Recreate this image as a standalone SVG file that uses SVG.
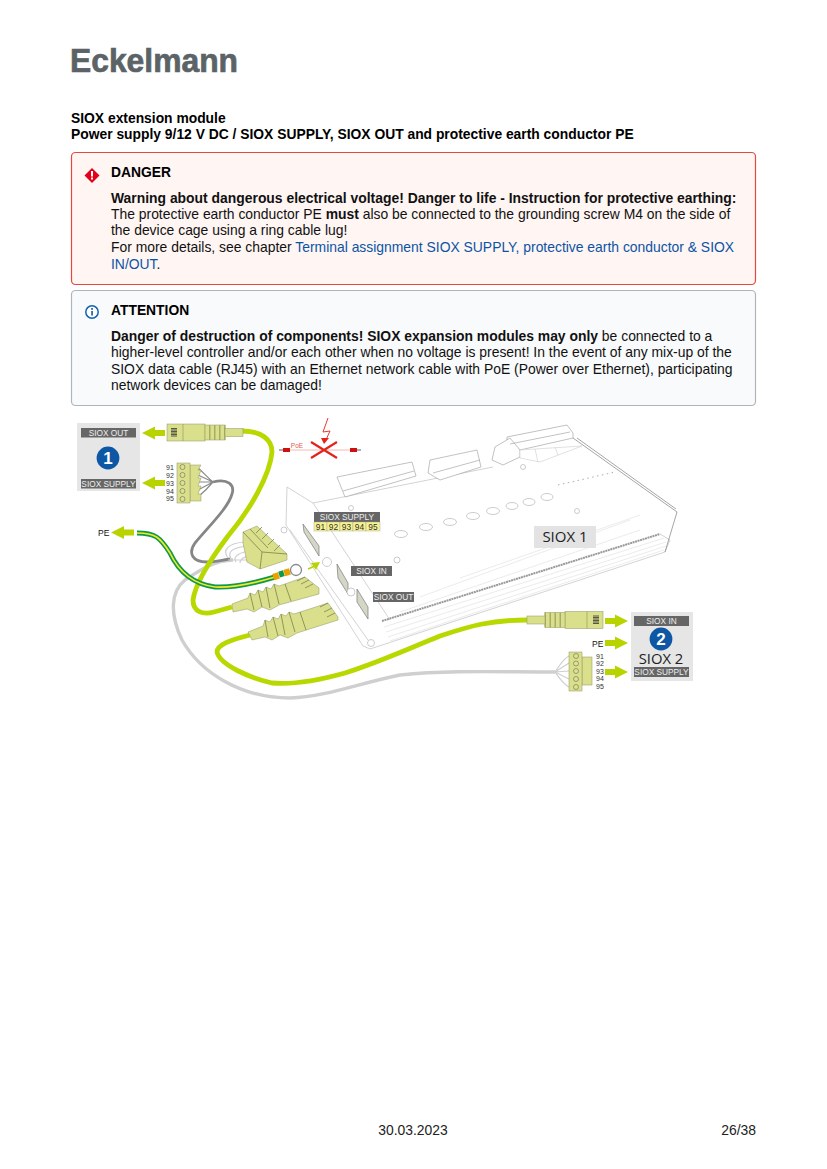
<svg xmlns="http://www.w3.org/2000/svg" width="827" height="1169" viewBox="0 0 827 1169">
<style>
text{font-family:"Liberation Sans",Arial,sans-serif;fill:#000}
.b{font-size:13.900px;fill:#111}
.bb{font-weight:bold}
.h{font-size:13.850px;font-weight:bold}
.lnk{fill:#0b54a4}
text.lab{font-size:8.300px;fill:#eee;text-anchor:middle}
text.pin{font-size:7px;fill:#333}
text.term{font-size:8.400px;fill:#333;text-anchor:middle}
text.pe{font-size:8.500px;fill:#111}
.ln{fill:none;stroke:#b5b5b5;stroke-width:.6}
.lnd{fill:none;stroke:#808080;stroke-width:.7}
.lnl{fill:none;stroke:#e2e2e2;stroke-width:.7}
.plug{fill:#dadf8b;stroke:#8f9460;stroke-width:.5}
.rib{fill:none;stroke:#7c8150;stroke-width:.8}
.ar{fill:#b9d300}
.cab{fill:none;stroke:#b9d800;stroke-width:4.800}
.grey{fill:none;stroke:#cfcfcf;stroke-width:3.400}
.dgrey{fill:none;stroke:#868686;stroke-width:2.800}
.w{fill:none;stroke:#8a8a8a;stroke-width:1.200}
.wl{fill:none;stroke:#cfcfcf;stroke-width:1.200}
.panel{fill:#e6e6e6}
.box{fill:#666}
.led{fill:#fff;stroke:#aaa;stroke-width:.6}
.port{fill:#d4d6c6;stroke:#7a7a7a;stroke-width:.7}
</style>
<defs>
<g id="arr"><path class="ar" d="M0 0L13 -6.500V-3H23V3H13V6.500Z"/></g>
<g id="rj"><rect x="0" y="-8.500" width="38" height="17" class="plug"/><rect x="38" y="-7.500" width="20" height="15" class="plug"/><rect x="42" y="-7.500" width="1.500" height="15" fill="#a8ad66"/><rect x="47" y="-7.500" width="1.500" height="15" fill="#a8ad66"/><rect x="52" y="-7.500" width="1.500" height="15" fill="#a8ad66"/><rect x="57" y="-7.500" width="1.500" height="15" fill="#a8ad66"/><rect x="58" y="-4" width="18" height="8" class="plug"/><path d="M4-4h6M4-2.500h6M4-1h6M4 .5h6M4 2h6M4 3.500h6" stroke="#333" stroke-width=".8"/><path d="M16-8.500v17" stroke="#8f9460" stroke-width=".6"/></g>
</defs>
<g id="logo"><text x="70" y="72" style="font-size:33px;font-weight:bold;fill:#5b6367;stroke:#5b6367;stroke-width:.7" textLength="168" lengthAdjust="spacingAndGlyphs">Eckelmann</text></g>
<g id="title"><text x="71" y="123" class="h">SIOX extension module</text><text x="71" y="139" class="h">Power supply 9/12 V DC / SIOX SUPPLY, SIOX OUT and protective earth conductor PE</text></g>
<g id="danger">
<rect x="71.500" y="152.500" width="684" height="132" rx="4" fill="#fff5f3" stroke="#e5483f" stroke-width="1.200"/>
<path d="M92 168l7.500 7.500L92 183l-7.500-7.500Z" fill="#e3001b"/><rect x="91" y="171" width="2" height="5.500" fill="#fff"/><rect x="91" y="177.500" width="2" height="2" fill="#fff"/>
<text x="111" y="177" class="h">DANGER</text>
<text x="111" y="203" class="b bb">Warning about dangerous electrical voltage! Danger to life - Instruction for protective earthing:</text>
<text x="111" y="219" class="b">The protective earth conductor PE <tspan class="bb">must</tspan> also be connected to the grounding screw M4 on the side of</text>
<text x="111" y="235" class="b">the device cage using a ring cable lug!</text>
<text x="111" y="252" class="b">For more details, see chapter <tspan class="lnk">Terminal assignment SIOX SUPPLY, protective earth conductor &amp; SIOX</tspan></text>
<text x="111" y="269" class="b"><tspan class="lnk">IN/OUT</tspan>.</text>
</g>
<g id="attention">
<rect x="71.500" y="290.500" width="684" height="115" rx="4" fill="#f9fafb" stroke="#aeb6bd" stroke-width="1.200"/>
<circle cx="92" cy="312" r="6.200" fill="#fff" stroke="#1463ad" stroke-width="1.500"/><rect x="91.200" y="311" width="1.700" height="4.500" fill="#1463ad"/><rect x="91.200" y="308" width="1.700" height="1.800" fill="#1463ad"/>
<text x="111" y="315" class="h">ATTENTION</text>
<text x="111" y="341" class="b"><tspan class="bb">Danger of destruction of components! SIOX expansion modules may only</tspan> be connected to a</text>
<text x="111" y="357" class="b">higher-level controller and/or each other when no voltage is present! In the event of any mix-up of the</text>
<text x="111" y="374" class="b">SIOX data cable (RJ45) with an Ethernet network cable with PoE (Power over Ethernet), participating</text>
<text x="111" y="390" class="b">network devices can be damaged!</text>
</g>
<g id="siox-1-device">
<path class="ln" d="M287 487L313 503L390 620M287 487L286 525L363 646L370 649L665 552L670 540L660 534M290 530L368 640"/>
<path class="ln" d="M313 503L493 467"/>
<path class="lnd" d="M573 438L677 512L665 552M577 438L676 509"/>
<path class="lnl" d="M384 627L664 538M386 632L666 542M388 637L666 546M390 641L664 550"/>
<path class="lnl" d="M400 612L640 530M420 597L630 520M460 578L640 515"/>
<path d="M382 621L660 534" stroke="#999" stroke-width="2" stroke-dasharray="2 .6" fill="none"/>
<path d="M558 485L615 472" stroke="#888" stroke-width=".7" stroke-dasharray="1.500 3.500"/>
<g id="top-terminals" fill="#fff" stroke="#999" stroke-width=".6">
<path d="M337 477L412 462L416 476L345 497Z"/>
<path d="M430 460L477 450L481 467L440 480L428 473Z"/>
<path d="M507 437L567 425L573 433V438L520 450L507 447Z"/>
<path d="M495 447L492 460L503 465L520 457V450L510 438Z"/>
<path d="M520 450L582 446L540 462L520 458ZM535 449L538 462M555 447L558 455" stroke="#ccc"/>
<path d="M343 491L414 471M433 473L480 460M510 444L570 432" fill="none"/>
</g>
<g id="leds">
<ellipse class="led" cx="401" cy="534" rx="6.500" ry="3.500"/><ellipse class="led" cx="426" cy="527" rx="6.500" ry="3.500"/><ellipse class="led" cx="450" cy="522" rx="6.500" ry="3.500"/><ellipse class="led" cx="473" cy="516" rx="6.500" ry="3.500"/><ellipse class="led" cx="493" cy="511" rx="6.500" ry="3.500"/><ellipse class="led" cx="512" cy="506" rx="6" ry="3.500"/><ellipse class="led" cx="529" cy="502" rx="6" ry="3.500"/><ellipse class="led" cx="547" cy="497" rx="6" ry="3.500"/>
<circle class="led" cx="397" cy="560" r="3"/><circle class="led" cx="577" cy="511" r="2.500"/><circle class="led" cx="523" cy="467" r="2.500"/><circle class="led" cx="351" cy="508" r="2.500"/><circle class="led" cx="284" cy="530" r="3"/>
</g>
<g id="ports">
<path class="port" d="M303 524L319 546V556L304 532Z"/>
<path class="port" d="M337 564L348 583V594L338 578Z"/>
<path class="port" d="M357 589L368 607V619L357 602Z"/>
<circle class="led" cx="327" cy="562" r="4.500"/><circle class="led" cx="351" cy="592" r="4"/><circle class="led" cx="371" cy="643" r="3.500"/>
</g>
<path class="ar" d="M320 562L311 563L316 570Z"/>
<path d="M308 569L315 566" stroke="#b9d300" stroke-width="1.500"/>
<g id="labels">
<rect x="314" y="512" width="66" height="10" fill="#666"/><text x="347" y="520" class="lab">SIOX SUPPLY</text>
<g fill="#f7f38f" stroke="#999" stroke-width=".4"><rect x="314" y="522" width="13" height="9"/><rect x="327" y="522" width="13" height="9"/><rect x="340" y="522" width="13" height="9"/><rect x="353" y="522" width="13" height="9"/><rect x="366" y="522" width="14" height="9"/></g>
<text x="320.500" y="530" class="term">91</text><text x="333.500" y="530" class="term">92</text><text x="346.500" y="530" class="term">93</text><text x="359.500" y="530" class="term">94</text><text x="373" y="530" class="term">95</text>
<rect x="351" y="566" width="41" height="10" class="box"/><text x="371.500" y="574" class="lab">SIOX IN</text>
<rect x="373" y="592" width="41" height="10" class="box"/><text x="393.500" y="600" class="lab">SIOX OUT</text>
<rect x="534" y="526" width="62" height="22" fill="#e3e3e3"/><text x="565" y="542" style="font-size:15px;font-family:'Open Sans',sans-serif;text-anchor:middle;fill:#222">SIOX 1</text>
</g>
</g>
<g id="connectors">
<path class="grey" d="M233 560C215 560 200 570 185 580C170 592 170 615 182 640C200 672 240 698 290 698C325 697 360 683 400 675C450 670 500 672 555 672"/>
<path class="dgrey" d="M213 482C228 478 235 485 232 494C228 508 210 525 195 543C188 553 192 562 207 562C215 562 222 560 230 559"/>
<path class="cab" d="M242 431C262 431 272 440 272 452C270 475 250 510 228 536C210 560 195 585 193 600C193 612 203 615 214 612L232 607"/>
<path class="cab" d="M250 635C230 640 217 645 217 652C220 665 250 678 272 683C295 685 320 680 345 673C380 662 410 648 440 636C470 626 490 620 527 620"/>
<path id="pe-cable" d="M137 533C155 533 160 537 170 553C178 570 192 584 215 587C235 588 255 583 275 577" fill="none" stroke="#0f9a49" stroke-width="5"/>
<path d="M137 533C155 533 160 537 170 553C178 570 192 584 215 587C235 588 255 583 275 577" fill="none" stroke="#f4e62c" stroke-width="1.700"/>
<g class="w"><path d="M213 482C208 478 204 473 198 468M213 482L198 475M213 482H198M213 482L198 490M213 482C208 488 204 492 198 497"/></g>
<g class="wl"><path d="M555 672C560 665 563 659 569 656M555 672L569 663M555 672L569 671M555 672L569 679M555 672C560 679 563 684 569 687"/>
<path d="M228 558C222 550 228 543 245 542M232 560C226 552 232 547 250 546M236 562C232 556 240 552 254 550M240 563C240 558 246 556 258 554M228 560H250"/></g>
<use href="#arr" transform="translate(142 433)"/><use href="#arr" transform="translate(142 483)"/><use href="#arr" transform="translate(111 532.500)"/>
<use href="#arr" transform="translate(628 621) scale(-1 1)"/><use href="#arr" transform="translate(628 643) scale(-1 1)"/><use href="#arr" transform="translate(628 672) scale(-1 1)"/>
<path d="M290 450H350" stroke="#f3a9a0" stroke-width=".8"/>
<path d="M311 442L337 458M337 442L311 458" stroke="#e3241b" stroke-width="2.200"/>
<path d="M328 418L323 432L330 431L325 442" fill="none" stroke="#e3241b" stroke-width=".9"/>
<path d="M321 438L324 444L329 438Z" fill="#e3241b"/>
<rect x="283" y="448" width="7" height="4" fill="#c11"/><rect x="350" y="448" width="7" height="4" fill="#c11"/>
<path d="M279 450H283M357 450H361" stroke="#333" stroke-width=".8"/>
</g>
<g id="poe"><text x="297" y="448" style="font-size:6.500px;fill:#e35a50;text-anchor:middle">PoE</text></g>
<g id="panel-1">
<rect x="77" y="423" width="63" height="68" class="panel"/>
<rect x="81" y="428" width="55" height="9.500" class="box"/><text x="108.500" y="436" class="lab">SIOX OUT</text>
<circle cx="108" cy="458" r="11.400" fill="#0d57a5"/><text x="108" y="464" style="font-size:17px;font-weight:bold;fill:#fff;text-anchor:middle">1</text>
<rect x="81" y="479" width="55" height="9.500" class="box"/><text x="108.500" y="487" class="lab">SIOX SUPPLY</text>
</g>
<g id="panel-2">
<rect x="631" y="612" width="62" height="69" class="panel"/>
<rect x="634" y="616" width="55" height="10" class="box"/><text x="661.500" y="624" class="lab">SIOX IN</text>
<circle cx="661" cy="639" r="11.400" fill="#0d57a5"/><text x="661" y="645" style="font-size:17px;font-weight:bold;fill:#fff;text-anchor:middle">2</text>
<text x="661" y="664" style="font-size:14.800px;font-family:'Open Sans',sans-serif;text-anchor:middle;fill:#222">SIOX 2</text>
<rect x="634" y="667" width="55" height="10" class="box"/><text x="661.500" y="675" class="lab">SIOX SUPPLY</text>
</g>
<g id="pe-labels"><text x="98" y="535.500" class="pe">PE</text><text x="592" y="646.500" class="pe">PE</text></g>
<g id="rj45-top"><use href="#rj" transform="translate(167 432.500)"/></g>
<g id="rj45-right"><use href="#rj" transform="translate(603 620) scale(-1 1)"/></g>
<g id="boots">
<path class="plug" d="M232 604L248 598L250 593L255 595L258 590L263 592L266 587L271 589L274 584L279 586L305 577L319 588V594L279 605L270 610L262 607L254 612L247 609L233 612Z"/><path class="rib" d="M250 593L254 610M258 590L262 607M266 587L270 608M274 584L279 604M285 584L291 601M305 577L297 581M309 580L301 584M313 584L305 588"/>
<path class="plug" d="M248 632L263 626L265 620L270 622L273 617L278 619L281 614L286 616L289 612L294 614L328 603L338 617V620L297 633L288 638L280 635L272 640L265 637L252 640Z"/><path class="rib" d="M265 620L268 637M273 617L278 636M281 614L285 635M289 612L295 632M300 612L306 630M328 603L320 607M332 608L324 612M335 613L327 617"/>
</g>
<g id="ring-lug"><rect x="273" y="573" width="6" height="6.500" fill="#eaa000" transform="rotate(-18 276 576)"/><rect x="279" y="571" width="5" height="6" fill="#0f9a49" transform="rotate(-18 281 574)"/><rect x="284" y="569" width="6" height="6.500" fill="#eaa000" transform="rotate(-18 287 572)"/><circle cx="296" cy="570" r="5.500" fill="#fff" stroke="#888" stroke-width="1.300"/></g>
<g id="terminal-top">
<path class="plug" d="M190 465H201L198 470H201L198 478H201L198 486H201L198 494H201V501H190Z"/><rect x="177" y="463" width="13" height="40" class="plug"/>
<g fill="#dce28e" stroke="#555" stroke-width=".5"><circle cx="182.500" cy="467" r="2.500"/><circle cx="182.500" cy="475" r="2.500"/><circle cx="182.500" cy="483" r="2.500"/><circle cx="182.500" cy="491" r="2.500"/><circle cx="182.500" cy="499" r="2.500"/></g>
<text x="166" y="470" class="pin">91</text><text x="166" y="478" class="pin">92</text><text x="166" y="486" class="pin">93</text><text x="166" y="493.500" class="pin">94</text><text x="166" y="501" class="pin">95</text>
</g>
<g id="terminal-mid"><path class="plug" d="M243 532L257 526L287 554V560L260 569L247 562L243 543Z"/><path class="rib" d="M243 532L262 552L260 569M262 552L287 554M250 529L268 548M256 533L262 527M262 539L268 533M268 545L274 539M274 551L280 545"/></g>
<g id="terminal-right">
<rect x="582" y="657" width="10" height="28" class="plug"/><rect x="569" y="652" width="13" height="39" class="plug"/>
<g fill="#dce28e" stroke="#555" stroke-width=".5"><circle cx="576" cy="656" r="2.500"/><circle cx="576" cy="663.500" r="2.500"/><circle cx="576" cy="671" r="2.500"/><circle cx="576" cy="679" r="2.500"/><circle cx="576" cy="687" r="2.500"/></g>
<text x="596" y="658.500" class="pin">91</text><text x="596" y="666" class="pin">92</text><text x="596" y="673.500" class="pin">93</text><text x="596" y="681" class="pin">94</text><text x="596" y="689" class="pin">95</text>
</g>
<g id="footer"><text x="413" y="1135" style="font-size:13.900px;text-anchor:middle;fill:#222">30.03.2023</text><text x="756" y="1135" style="font-size:13.900px;text-anchor:end;fill:#222">26/38</text></g>
</svg>
